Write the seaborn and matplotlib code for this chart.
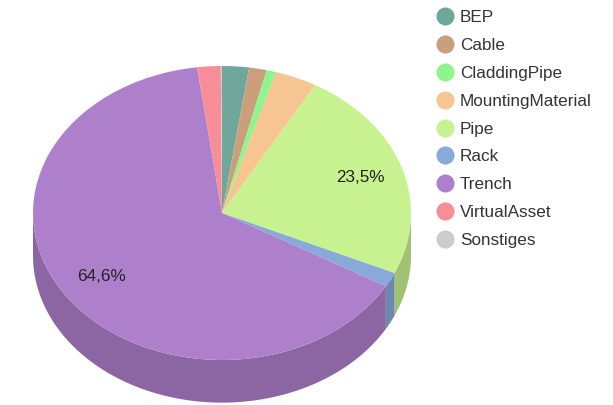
import numpy as np
import matplotlib
matplotlib.use("Agg")
import matplotlib.pyplot as plt
from matplotlib.lines import Line2D
from matplotlib.colors import to_rgb
import seaborn as sns

# slice data (percent), clockwise from 12 o'clock
categories = ["BEP", "Cable", "CladdingPipe", "MountingMaterial", "Pipe",
              "Rack", "Trench", "VirtualAsset", "Sonstiges"]
shares = [2.3, 1.5, 0.8, 3.6, 23.5, 1.6, 64.6, 2.0, 0.1]
colors = ["#6fa79c", "#c9a07b", "#8cf58c", "#f7c591", "#c8f28f",
          "#87aad9", "#ae80cb", "#f78d97", "#cccccc"]

sns.set_theme(style="white")
plt.rcParams['font.family'] = ['Liberation Sans', 'DejaVu Sans']

fig = plt.figure(figsize=(6.13, 4.05), dpi=100)
ax = fig.add_axes([0, 0, 1, 1])

depth = 0.29  # thickness of the 3d rim


def pct_label(p):
    if p < 10:
        return ""
    return ("%.1f%%" % p).replace(".", ",")


wedges, texts, autotexts = ax.pie(
    shares, colors=colors, startangle=90, counterclock=False,
    radius=1, center=(0, 0), autopct=pct_label, pctdistance=0.77,
    wedgeprops=dict(linewidth=0),
    textprops=dict(fontsize=12.3, color="#222222"))

# side walls for the front half of the pie
for w, c in zip(wedges, colors):
    t1, t2 = w.theta1, w.theta2
    dark = tuple(v * 0.8 for v in to_rgb(c))
    for k in range(-2, 2):
        lo = max(t1, 180 + 360 * k)
        hi = min(t2, 360 + 360 * k)
        if hi <= lo:
            continue
        ang = np.radians(np.linspace(lo, hi, 80))
        xs = np.cos(ang)
        ys = np.sin(ang)
        px = np.concatenate([xs, xs[::-1]])
        py = np.concatenate([ys, ys[::-1] - depth])
        ax.fill(px, py, color=dark, linewidth=0, zorder=0.5)

ax.set_aspect("auto")
ax.set_xlim(-1 - 33 / 189, 1 + 202 / 189)
ax.set_ylim(-192 / 147, 213 / 147)
ax.axis("off")

handles = [Line2D([0], [0], marker="o", linestyle="", markersize=13,
                  markerfacecolor=c, markeredgewidth=0) for c in colors]
fig.legend(handles, categories, loc="upper left",
           bbox_to_anchor=(419 / 613, 1 + 5 / 405), frameon=False,
           fontsize=12.3, labelspacing=0.75, handletextpad=0.3,
           handlelength=1.2, labelcolor="#333333")

fig.savefig("out.png", dpi=100)
